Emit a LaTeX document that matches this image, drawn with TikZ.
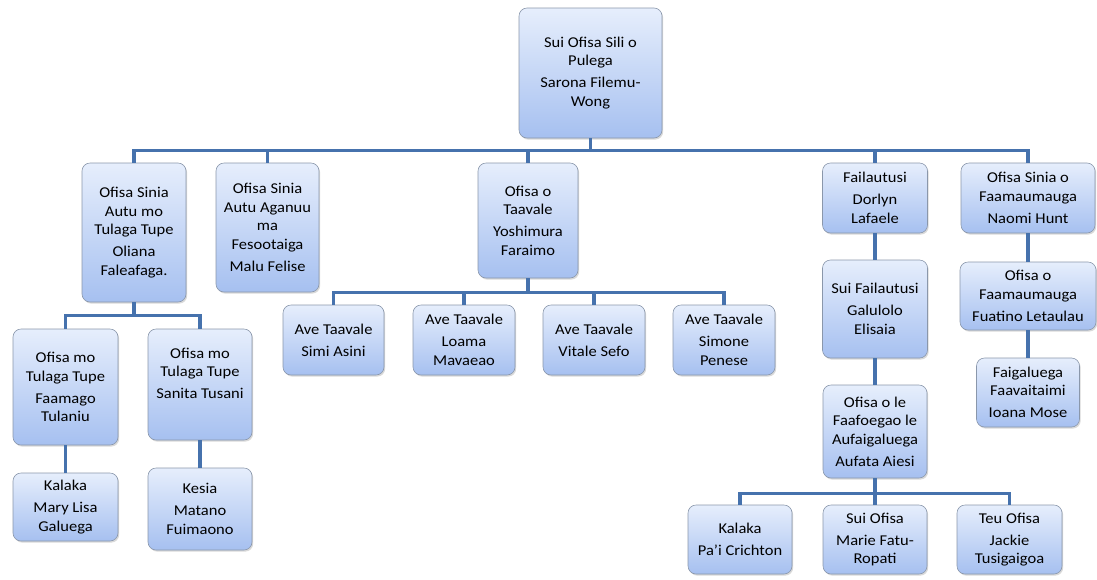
\documentclass[tikz,border=0pt]{standalone}
\usepackage{fontspec}
\setmainfont{Carlito}[FakeStretch=1.1]
\usepackage{tikz}
\usetikzlibrary{shadows}
\definecolor{boxtop}{HTML}{E6EEFC}
\definecolor{boxbot}{HTML}{A6C0F0}
\definecolor{boxline}{HTML}{8A97AB}
\definecolor{linkblue}{HTML}{4672AD}
\tikzset{
  unit/.style 2 args={draw=boxline, line width=.6pt, rounded corners=8pt,
    top color=boxtop, bottom color=boxbot, align=center,
    minimum width=#1, minimum height=#2, inner sep=1pt,
    font=\fontsize{15}{18.5}\selectfont,
    drop shadow={shadow xshift=1.2pt, shadow yshift=-1.6pt, opacity=.3}},
  link/.style={draw=linkblue, line width=3.4pt}
}

\begin{document}
\begin{tikzpicture}[x=1pt,y=-1pt]
\useasboundingbox (0,0) rectangle (1097,579);
\draw (590.5,73) node[unit={143}{130}] (ceo) {Sui Ofisa Sili o\\Pulega\\[3.5pt]Sarona Filemu-\\Wong};

\draw (134,232.5) node[unit={104}{139}] (tupe) {Ofisa Sinia\\Autu mo\\Tulaga Tupe\\[3.5pt]Oliana\\Faleafaga.};
\draw (267.5,227.5) node[unit={103}{129}] (aganuu) {Ofisa Sinia\\Autu Aganuu\\ma\\Fesootaiga\\[3.5pt]Malu Felise};
\draw (528,220.5) node[unit={100}{115}] (taavale) {Ofisa o\\Taavale\\[3.5pt]Yoshimura\\Faraimo};
\draw (875,198) node[unit={105}{70}] (fail) {Failautusi\\[3.5pt]Dorlyn\\Lafaele};
\draw (1028,198) node[unit={134}{70}] (faam) {Ofisa Sinia o\\Faamaumauga\\[3.5pt]Naomi Hunt};

% tulaga tupe
\draw (65.5,387) node[unit={105}{116}] (tupeA) {Ofisa mo\\Tulaga Tupe\\[3.5pt]Faamago\\Tulaniu};
\draw (200,384.5) node[unit={104}{111}] (tupeB) {Ofisa mo\\Tulaga Tupe\\[3.5pt]Sanita Tusani\\[3.5pt]~};
\draw (65.5,507) node[unit={105}{68}] (kalakaA) {Kalaka\\[3.5pt]Mary Lisa\\Galuega};
\draw (200,509) node[unit={104}{82}] (kesia) {Kesia\\[3.5pt]Matano\\Fuimaono};

% taavale
\draw (333.5,340) node[unit={101}{70}] (ave1) {Ave Taavale\\[3.5pt]Simi Asini};
\draw (464,340) node[unit={102}{70}] (ave2) {Ave Taavale\\[3.5pt]Loama\\Mavaeao};
\draw (594,340) node[unit={102}{70}] (ave3) {Ave Taavale\\[3.5pt]Vitale Sefo};
\draw (724,340) node[unit={102}{70}] (ave4) {Ave Taavale\\[3.5pt]Simone\\Penese};

% failautusi
\draw (875,309) node[unit={105}{98}] (suifail) {Sui Failautusi\\[3.5pt]Galulolo\\Elisaia};
\draw (875,431.5) node[unit={104}{93}] (aufai) {Ofisa o le\\Faafoegao le\\Aufaigaluega\\[3.5pt]Aufata Aiesi};
\draw (740,539.5) node[unit={104}{69}] (kalakaB) {Kalaka\\[3.5pt]Pa'i Crichton};
\draw (875,539.5) node[unit={104}{69}] (suiofisa) {Sui Ofisa\\[3.5pt]Marie Fatu-\\Ropati};
\draw (1009.5,539.5) node[unit={105}{69}] (teu) {Teu Ofisa\\[3.5pt]Jackie\\Tusigaigoa};

% faamaumauga
\draw (1028,296) node[unit={136}{68}] (faamA) {Ofisa o\\Faamaumauga\\[3.5pt]Fuatino Letaulau};
\draw (1028,392.5) node[unit={103}{69}] (faiga) {Faigaluega\\Faavaitaimi\\[3.5pt]Ioana Mose};

\foreach \n in {tupe,aganuu,taavale,fail,faam}
  \draw[link] (ceo.south) -- +(0,12) -| (\n.north);
\foreach \n in {tupeA,tupeB}
  \draw[link] (tupe.south) -- +(0,13) -| (\n.north);
\foreach \n in {ave1,ave2,ave3,ave4}
  \draw[link] (taavale.south) -- +(0,14) -| (\n.north);
\foreach \n in {kalakaB,suiofisa,teu}
  \draw[link] (aufai.south) -- +(0,15) -| (\n.north);
\draw[link] (tupeA) -- (kalakaA);
\draw[link] (tupeB) -- (kesia);
\draw[link] (fail) -- (suifail);
\draw[link] (suifail) -- (aufai);
\draw[link] (faam) -- (faamA);
\draw[link] (faamA) -- (faiga);
\end{tikzpicture}
\end{document}
